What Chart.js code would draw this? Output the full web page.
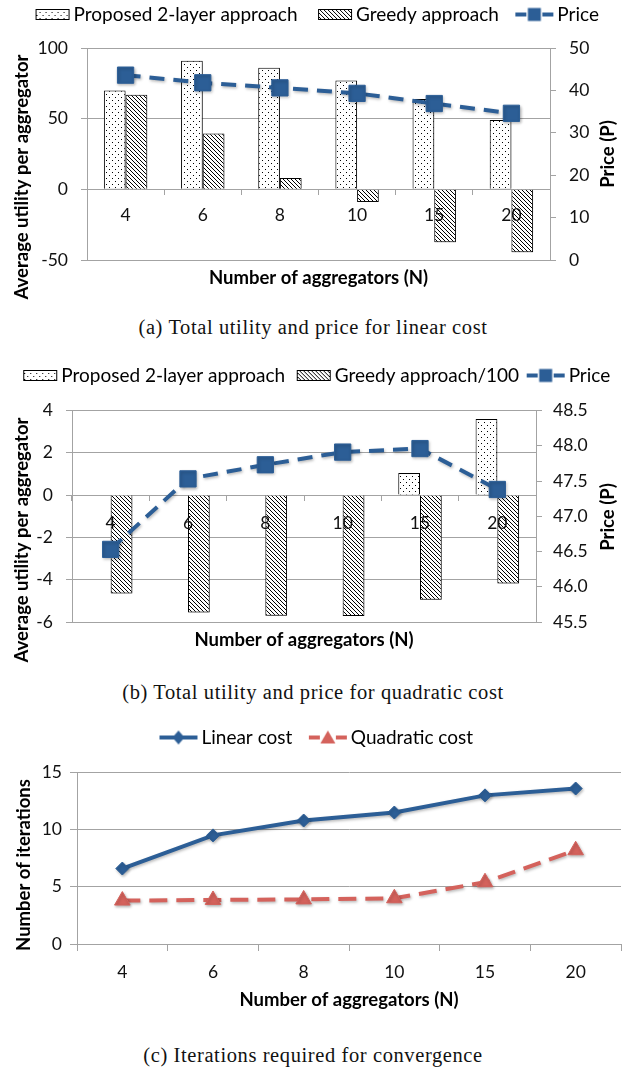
<!DOCTYPE html>
<html><head><meta charset="utf-8">
<script src="https://cdn.jsdelivr.net/npm/chart.js@4.4.1/dist/chart.umd.min.js"></script>
<style>
html,body{margin:0;padding:0;background:#fff;}
#page{position:relative;width:638px;height:1071px;overflow:hidden;background:#fff;}
canvas{position:absolute;left:0;}
.cap{position:absolute;left:0;width:626px;text-align:center;font-family:"Liberation Serif","Times New Roman",serif;font-size:20.5px;letter-spacing:0.6px;line-height:22px;color:#111;}
</style></head><body>
<div id="page">
<canvas id="ca" width="638" height="305" style="top:0px"></canvas>
<div class="cap" style="top:316px">(a) Total utility and price for linear cost</div>
<canvas id="cb" width="638" height="330" style="top:340px"></canvas>
<div class="cap" style="top:681px">(b) Total utility and price for quadratic cost</div>
<canvas id="cc" width="638" height="320" style="top:700px"></canvas>
<div class="cap" style="top:1044px">(c) Iterations required for convergence</div>
</div>
<script>
// ---------- data ----------
const categories = ['4', '6', '8', '10', '15', '20'];
// (a) linear cost
const proposedLinear = [70, 91, 86, 77, 64, 49];
const greedyLinear = [67, 39.5, 8, -9, -37.5, -44.6];
const priceLinear = [43.6, 41.8, 40.6, 39.3, 36.9, 34.6];
const utilTicksA = [-50, 0, 50, 100];
const priceTicksA = [0, 10, 20, 30, 40, 50];
// (b) quadratic cost
const proposedQuad = [0, 0, 0, 0, 1.04, 3.6];
const greedyQuad100 = [-4.65, -5.55, -5.7, -5.72, -4.95, -4.18];
const priceQuad = [46.53, 47.53, 47.73, 47.91, 47.96, 47.38];
const utilTicksB = [-6, -4, -2, 0, 2, 4];
const priceTicksB = [45.5, 46, 46.5, 47, 47.5, 48, 48.5];
// (c) iterations
const itersLinear = [6.6, 9.5, 10.8, 11.5, 13.0, 13.6];
const itersQuad = [3.8, 3.85, 3.9, 4.0, 5.4, 8.2];
const iterTicks = [0, 5, 10, 15];

const seriesNames = {
  proposed: 'Proposed 2-layer approach',
  greedy: 'Greedy approach',
  greedy100: 'Greedy approach/100',
  price: 'Price',
  linear: 'Linear cost',
  quad: 'Quadratic cost'
};
const titles = {
  util: 'Average utility per aggregator',
  price: 'Price (P)',
  xN: 'Number of aggregators (N)',
  iters: 'Number of iterations'
};

// ---------- styles ----------
const BLUE = '#2c5e96';
const RED = '#d4625c';
const GRID = '#a3a3a3';
const TXT = '#111';
const FONT = 'Lato';
Chart.defaults.font.family = FONT;
Chart.defaults.color = TXT;

function makeDots() {
  const c = document.createElement('canvas'); c.width = 6; c.height = 6;
  const g = c.getContext('2d');
  g.fillStyle = '#fff'; g.fillRect(0, 0, 6, 6);
  g.fillStyle = '#000'; g.fillRect(1, 1, 1, 1); g.fillRect(4, 4, 1, 1);
  return g.createPattern(c, 'repeat');
}
function makeHatch() {
  const c = document.createElement('canvas'); c.width = 4; c.height = 4;
  const g = c.getContext('2d');
  g.fillStyle = '#fff'; g.fillRect(0, 0, 4, 4);
  g.fillStyle = '#000';
  for (let i = 0; i < 4; i++) g.fillRect(i, i, 1, 1);
  return g.createPattern(c, 'repeat');
}
const DOTS = makeDots();
const HATCH = makeHatch();

const LFS = 19; // legend font size
function makeIcon(lw, iconW, iconH, drawFn) {
  const half = lw / 2 + LFS / 2 + 2;
  const Wi = Math.round(2 * half);
  const Hi = iconH + 8;
  const c = document.createElement('canvas'); c.width = Wi; c.height = Hi;
  const g = c.getContext('2d');
  const right = Wi / 2 + lw / 2 + LFS / 2 - 4;
  const left = Math.round(right - iconW);
  drawFn(g, left, Hi / 2, iconW, iconH);
  return c;
}
function boxIcon(lw, pattern) {
  return makeIcon(lw, 34, 11, (g, l, cy, w, h) => {
    const t = Math.round(cy - h / 2);
    g.fillStyle = pattern; g.fillRect(l, t, w, h);
    g.strokeStyle = '#000'; g.lineWidth = 1; g.strokeRect(l + 0.5, t + 0.5, w - 1, h - 1);
  });
}
function lineIcon(lw, color, marker, dashed) {
  return makeIcon(lw, 38, 14, (g, l, cy, w, h) => {
    g.strokeStyle = color; g.fillStyle = color; g.lineWidth = 4;
    g.beginPath();
    if (dashed) {
      g.moveTo(l, cy); g.lineTo(l + 11, cy);
      g.moveTo(l + w - 11, cy); g.lineTo(l + w, cy);
    } else {
      g.moveTo(l, cy); g.lineTo(l + w, cy);
    }
    g.stroke();
    const cx = l + w / 2;
    g.beginPath();
    if (marker === 'rect') { g.rect(cx - 6.5, cy - 6.5, 13, 13); }
    else if (marker === 'diamond') { g.moveTo(cx, cy - 7); g.lineTo(cx + 6, cy); g.lineTo(cx, cy + 7); g.lineTo(cx - 6, cy); g.closePath(); }
    else { g.moveTo(cx, cy - 7); g.lineTo(cx + 7.5, cy + 6); g.lineTo(cx - 7.5, cy + 6); g.closePath(); }
    g.fill();
  });
}

function legendOpts(lw, items) {
  return {
    display: true, position: 'top',
    labels: {
      usePointStyle: true, pointStyleWidth: lw, padding: 5,
      font: { family: FONT, size: LFS }, color: '#000',
      generateLabels: () => items.map(it => ({ text: it.text, pointStyle: it.icon, fontColor: '#000', hidden: false, lineWidth: 0, strokeStyle: 'rgba(0,0,0,0)', fillStyle: 'rgba(0,0,0,0)' }))
    },
    onClick: null
  };
}

const axisTitles = {
  id: 'axisTitles',
  afterDraw(chart, args, opts) {
    const ctx = chart.ctx;
    (opts.items || []).forEach(t => {
      ctx.save();
      ctx.font = 'bold 18.5px ' + FONT;
      ctx.fillStyle = '#000';
      ctx.textAlign = 'center';
      ctx.textBaseline = 'middle';
      ctx.translate(t.x, t.y);
      if (t.rotate) ctx.rotate(-Math.PI / 2);
      ctx.fillText(t.text, 0, 0);
      ctx.restore();
    });
  }
};
const softShadow = {
  id: 'softShadow',
  beforeDatasetsDraw(chart) {
    const c = chart.ctx; c.save();
    c.shadowColor = 'rgba(0,0,0,0.28)'; c.shadowBlur = 3; c.shadowOffsetX = 1; c.shadowOffsetY = 1.5;
  },
  afterDatasetsDraw(chart) { chart.ctx.restore(); }
};

function fixedTicks(arr) { return (s) => { s.ticks = arr.map(v => ({ value: v })); }; }
const tickFont = { family: FONT, size: 17.5 };

function gapAxis(h) {
  return { type: 'category', position: 'top', display: true, offset: true, ticks: { display: false }, grid: { display: false }, border: { display: false }, afterFit: (s) => { s.height = h; } };
}

function barChart(id, cfg) {
  return new Chart(document.getElementById(id), {
    data: {
      labels: categories,
      datasets: [
        { type: 'line', label: seriesNames.price, data: cfg.price, xAxisID: 'x', yAxisID: 'y1', order: 0,
          borderColor: BLUE, backgroundColor: BLUE, borderWidth: 4, borderDash: [15, 9], tension: 0,
          pointStyle: 'rect', pointRadius: 11.5, pointBorderWidth: 1, pointBackgroundColor: BLUE, pointBorderColor: BLUE },
        { type: 'bar', label: seriesNames.proposed, data: cfg.proposed, xAxisID: 'x', yAxisID: 'y', order: 1,
          backgroundColor: DOTS, borderColor: '#000', borderWidth: 1, categoryPercentage: 0.562, barPercentage: 1 },
        { type: 'bar', label: cfg.greedyName, data: cfg.greedy, xAxisID: 'x', yAxisID: 'y', order: 1,
          backgroundColor: HATCH, borderColor: '#000', borderWidth: 1, categoryPercentage: 0.562, barPercentage: 1 }
      ]
    },
    options: {
      responsive: false, animation: false, devicePixelRatio: 1,
      layout: { padding: cfg.padding },
      plugins: {
        legend: legendOpts(cfg.lw, [
          { text: seriesNames.proposed, icon: boxIcon(cfg.lw, DOTS) },
          { text: cfg.greedyName, icon: boxIcon(cfg.lw, HATCH) },
          { text: seriesNames.price, icon: lineIcon(cfg.lw, BLUE, 'rect', true) }
        ]),
        tooltip: { enabled: false },
        axisTitles: { items: cfg.titles }
      },
      scales: {
        x: { type: 'category', position: { y: 0 }, offset: true,
          grid: { display: true, drawOnChartArea: false, drawTicks: true, tickLength: 6, color: GRID, offset: true },
          border: { display: false },
          ticks: { font: tickFont, color: TXT, padding: cfg.xPad, maxRotation: 0, autoSkip: false, z: 1 } },
        y: { position: 'left', min: cfg.utilTicks[0], max: cfg.utilTicks[cfg.utilTicks.length - 1],
          afterBuildTicks: fixedTicks(cfg.utilTicks),
          grid: { color: GRID, tickLength: 6 }, border: { display: true, color: GRID },
          ticks: { font: tickFont, color: TXT, padding: cfg.yPad },
          afterFit: (s) => { s.width = cfg.yW; } },
        y1: { position: 'right', min: cfg.priceTicks[0], max: cfg.priceTicks[cfg.priceTicks.length - 1],
          afterBuildTicks: fixedTicks(cfg.priceTicks),
          grid: { drawOnChartArea: false, color: GRID, tickLength: 6 }, border: { display: true, color: GRID },
          ticks: { font: tickFont, color: TXT, padding: cfg.y1Pad },
          afterFit: (s) => { s.width = cfg.y1W; } },
        gap: gapAxis(cfg.gap)
      }
    },
    plugins: [softShadow, axisTitles]
  });
}

barChart('ca', {
  proposed: proposedLinear, greedy: greedyLinear, price: priceLinear, greedyName: seriesNames.greedy,
  utilTicks: utilTicksA, priceTicks: priceTicksA, lw: 44,
  padding: { top: 0, left: 0, right: 19, bottom: 45 }, gap: 14,
  yW: 87, y1W: 69, xPad: 10, yPad: 13, y1Pad: 13,
  titles: [
    { text: titles.util, x: 22, y: 177, rotate: true },
    { text: titles.price, x: 608, y: 154, rotate: true },
    { text: titles.xN, x: 318.5, y: 278 }
  ]
});

barChart('cb', {
  proposed: proposedQuad, greedy: greedyQuad100, price: priceQuad, greedyName: seriesNames.greedy100,
  utilTicks: utilTicksB, priceTicks: priceTicksB, lw: 35,
  padding: { top: 21, left: 0, right: 11, bottom: 48 }, gap: 15.5,
  yW: 72, y1W: 91, xPad: 12, yPad: 13, y1Pad: 11,
  titles: [
    { text: titles.util, x: 22, y: 200, rotate: true },
    { text: titles.price, x: 608, y: 177, rotate: true },
    { text: titles.xN, x: 304, y: 300 }
  ]
});

new Chart(document.getElementById('cc'), {
  type: 'line',
  data: {
    labels: categories,
    datasets: [
      { label: seriesNames.linear, data: itersLinear, xAxisID: 'x', yAxisID: 'y', borderColor: BLUE, backgroundColor: BLUE, borderWidth: 4, tension: 0,
        pointStyle: 'rectRot', pointRadius: 6.5, pointBorderWidth: 1, pointBackgroundColor: BLUE, pointBorderColor: BLUE },
      { label: seriesNames.quad, data: itersQuad, xAxisID: 'x', yAxisID: 'y', borderColor: RED, backgroundColor: RED, borderWidth: 4, borderDash: [18, 9], tension: 0,
        pointStyle: 'triangle', pointRadius: 9, pointBorderWidth: 1, pointBackgroundColor: RED, pointBorderColor: RED }
    ]
  },
  options: {
    responsive: false, animation: false, devicePixelRatio: 1,
    layout: { padding: { top: 23, left: 0, right: 17, bottom: 0 } },
    plugins: {
      legend: legendOpts(44, [
        { text: seriesNames.linear, icon: lineIcon(44, BLUE, 'diamond', false) },
        { text: seriesNames.quad, icon: lineIcon(44, RED, 'triangle', true) }
      ]),
      tooltip: { enabled: false },
      axisTitles: { items: [
        { text: titles.iters, x: 24, y: 165, rotate: true },
        { text: titles.xN, x: 349, y: 300 }
      ] }
    },
    scales: {
      x: { type: 'category', position: 'bottom', offset: true,
        grid: { display: true, drawOnChartArea: false, tickLength: 7, color: GRID, offset: true },
        border: { display: true, color: GRID },
        ticks: { font: tickFont, color: TXT, padding: 11, maxRotation: 0, autoSkip: false },
        afterFit: (s) => { s.height = 76; } },
      y: { position: 'left', min: iterTicks[0], max: iterTicks[iterTicks.length - 1],
        afterBuildTicks: fixedTicks(iterTicks),
        grid: { color: GRID, tickLength: 7 }, border: { display: true, color: GRID },
        ticks: { font: tickFont, color: TXT, padding: 8 },
        afterFit: (s) => { s.width = 77; } },
      gap: gapAxis(15.5)
    }
  },
  plugins: [softShadow, axisTitles]
});
</script>
</body></html>
